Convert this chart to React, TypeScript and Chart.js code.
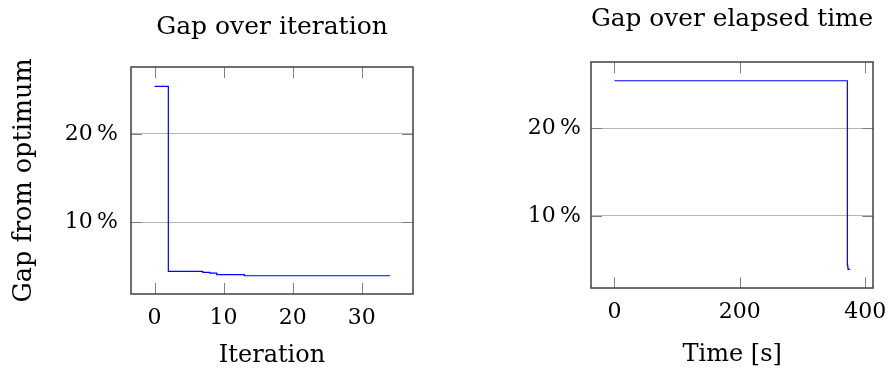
import React, { useEffect, useRef } from "react";
import { Chart, registerables } from "chart.js";

Chart.register(...registerables);

// ---- data ----
const iterations = [
  0, 1, 2, 3, 4, 5, 6, 7, 8, 9, 10, 11, 12, 13, 14, 15, 16, 17, 18, 19, 20,
  21, 22, 23, 24, 25, 26, 27, 28, 29, 30, 31, 32, 33, 34,
];
const gapPercent = [
  25.4, 25.4, 4.41, 4.41, 4.41, 4.41, 4.41, 4.3, 4.22, 4.05, 4.05, 4.05, 4.05,
  3.92, 3.92, 3.92, 3.92, 3.92, 3.92, 3.92, 3.92, 3.92, 3.92, 3.92, 3.92, 3.92,
  3.92, 3.92, 3.92, 3.92, 3.92, 3.92, 3.92, 3.92, 3.9,
];
const elapsedSeconds = [
  0, 5, 371.6, 371.7, 371.8, 371.9, 372.0, 372.1, 372.3, 372.4, 372.5, 372.6,
  372.7, 372.8, 372.9, 373.0, 373.1, 373.2, 373.3, 373.4, 373.5, 373.6, 373.7,
  373.8, 373.9, 374.0, 374.1, 374.2, 374.4, 374.6, 374.8, 375.0, 375.2, 375.3,
  375.5,
];
const iterationTickStep = 10;
const timeTickStep = 200;
const gapTickStep = 10;

const FONT = "DejaVu Serif";

const framePlugin = {
  id: "frameAndInnerTicks",
  beforeDatasetsDraw(chart: any) {
    const { ctx, chartArea: a, scales } = chart;
    const L = 11;
    ctx.save();
    ctx.strokeStyle = "#808080";
    ctx.lineWidth = 1;
    ctx.beginPath();
    scales.x.ticks.forEach((t: any) => {
      const px = Math.round(scales.x.getPixelForValue(t.value)) + 0.5;
      ctx.moveTo(px, a.top);
      ctx.lineTo(px, a.top + L);
      ctx.moveTo(px, a.bottom);
      ctx.lineTo(px, a.bottom - L);
    });
    scales.y.ticks.forEach((t: any) => {
      const py = Math.round(scales.y.getPixelForValue(t.value)) + 0.5;
      ctx.moveTo(a.left, py);
      ctx.lineTo(a.left + L, py);
      ctx.moveTo(a.right, py);
      ctx.lineTo(a.right - L, py);
    });
    ctx.stroke();
    ctx.restore();
  },
  afterDatasetsDraw(chart: any) {
    const { ctx, chartArea: a } = chart;
    ctx.save();
    ctx.strokeStyle = "#404040";
    ctx.lineWidth = 1.5;
    ctx.strokeRect(
      Math.round(a.left),
      Math.round(a.top),
      Math.round(a.right) - Math.round(a.left),
      Math.round(a.bottom) - Math.round(a.top)
    );
    ctx.restore();
  },
};

type Cfg = {
  xs: number[];
  ys: number[];
  title: string;
  xTitle: string;
  yTitle?: string;
  xMin: number;
  xMax: number;
  yMin: number;
  yMax: number;
  xStep: number;
  padRight: number;
  titlePadTop: number;
  titlePadBottom: number;
  xHeight: number;
  xTitlePadBottom: number;
  yWidth: number;
  yTickPad: number;
};

function buildChart(canvas: HTMLCanvasElement, c: Cfg) {
  return new Chart(canvas, {
    type: "line",
    data: {
      datasets: [
        {
          data: c.xs.map((x, i) => ({ x, y: c.ys[i] })),
          borderColor: "#0000ff",
          borderWidth: 1.2,
          pointRadius: 0,
          stepped: true,
          fill: false,
        },
      ],
    },
    options: {
      animation: false,
      responsive: false,
      devicePixelRatio: 1,
      layout: { padding: { left: 0, top: 0, right: c.padRight, bottom: 0 } },
      plugins: {
        legend: { display: false },
        tooltip: { enabled: false },
        title: {
          display: true,
          text: c.title,
          fullSize: false,
          color: "#000",
          font: { family: FONT, size: 25, weight: "normal" },
          padding: { top: c.titlePadTop, bottom: c.titlePadBottom },
        },
      },
      scales: {
        x: {
          type: "linear",
          min: c.xMin,
          max: c.xMax,
          grid: { display: false, drawTicks: false },
          border: { display: false },
          ticks: {
            stepSize: c.xStep,
            includeBounds: false,
            color: "#000",
            font: { family: FONT, size: 22 },
            padding: 11,
            maxRotation: 0,
            autoSkip: false,
          },
          title: {
            display: true,
            text: c.xTitle,
            color: "#000",
            font: { family: FONT, size: 24 },
            padding: { top: 0, bottom: c.xTitlePadBottom },
          },
          afterFit: (s: any) => {
            s.height = c.xHeight;
          },
        },
        y: {
          type: "linear",
          min: c.yMin,
          max: c.yMax,
          grid: { color: "#b5b5b5", lineWidth: 1, drawTicks: false },
          border: { display: false },
          ticks: {
            stepSize: gapTickStep,
            includeBounds: false,
            color: "#000",
            font: { family: FONT, size: 22 },
            padding: c.yTickPad,
            callback: (v: any) => `${v}\u2009%`,
          },
          title: {
            display: !!c.yTitle,
            text: c.yTitle || "",
            color: "#000",
            font: { family: FONT, size: 25.5 },
            padding: { top: 9, bottom: 0 },
          },
          afterFit: (s: any) => {
            s.width = c.yWidth;
          },
        },
      },
    } as any,
    plugins: [framePlugin],
  });
}

function ChartCanvas({
  cfg,
  left,
  width,
}: {
  cfg: Cfg;
  left: number;
  width: number;
}) {
  const ref = useRef<HTMLCanvasElement | null>(null);
  useEffect(() => {
    if (!ref.current) return;
    const ch = buildChart(ref.current, cfg);
    return () => ch.destroy();
  }, []);
  return (
    <canvas
      ref={ref}
      width={width}
      height={371}
      style={{ position: "absolute", left, top: 0, width, height: 371 }}
    />
  );
}

const leftCfg: Cfg = {
  xs: iterations,
  ys: gapPercent,
  title: "Gap over iteration",
  xTitle: "Iteration",
  yTitle: "Gap from optimum",
  xMin: -3.4,
  xMax: 37.4,
  yMin: 1.85,
  yMax: 27.6,
  xStep: iterationTickStep,
  padRight: 37,
  titlePadTop: 12.6,
  titlePadBottom: 24.4,
  xHeight: 77,
  xTitlePadBottom: 0.6,
  yWidth: 131,
  yTickPad: 13,
};

const rightCfg: Cfg = {
  xs: elapsedSeconds,
  ys: gapPercent,
  title: "Gap over elapsed time",
  xTitle: "Time [s]",
  xMin: -37.5,
  xMax: 413,
  yMin: 1.76,
  yMax: 27.5,
  xStep: timeTickStep,
  padRight: 46.7,
  titlePadTop: 4.6,
  titlePadBottom: 27.7,
  xHeight: 82.7,
  xTitlePadBottom: 1.6,
  yWidth: 141,
  yTickPad: 10,
};

export default function App() {
  return (
    <div
      style={{
        position: "absolute",
        left: 0,
        top: 0,
        width: 888,
        height: 371,
        overflow: "hidden",
        background: "#fff",
      }}
    >
      <ChartCanvas cfg={leftCfg} left={0} width={450} />
      <ChartCanvas cfg={rightCfg} left={450} width={470} />
    </div>
  );
}
